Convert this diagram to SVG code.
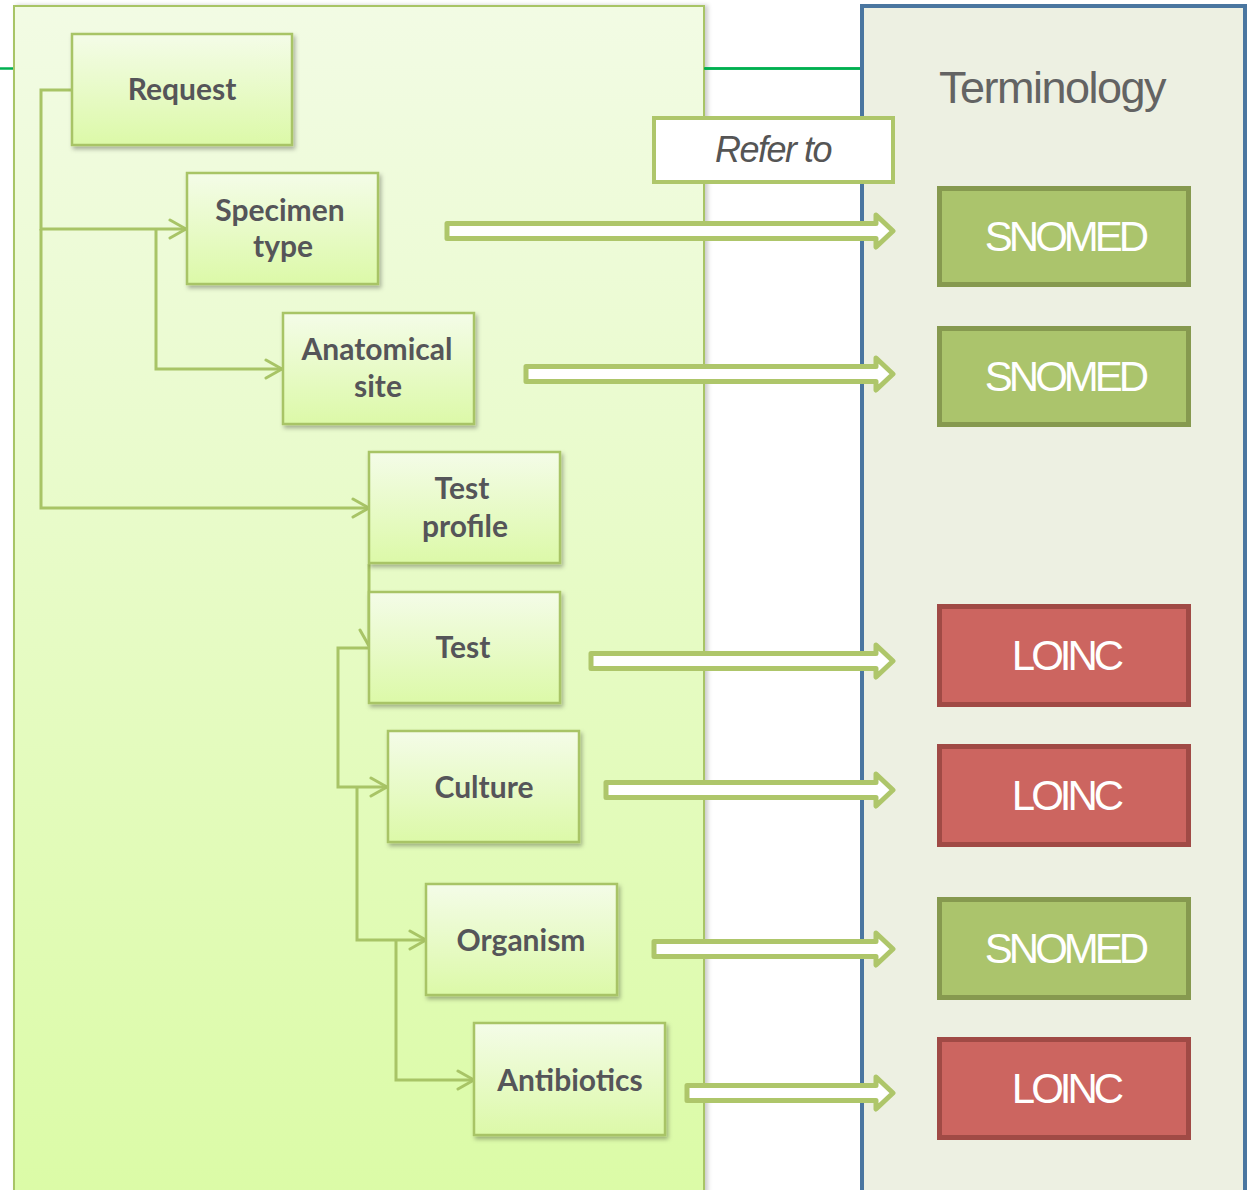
<svg xmlns="http://www.w3.org/2000/svg" width="1249" height="1190" viewBox="0 0 1249 1190">
  <defs>
    <linearGradient id="panelGrad" x1="0" y1="0" x2="0" y2="1">
      <stop offset="0" stop-color="#f2fbe4"/>
      <stop offset="1" stop-color="#dbfba6"/>
    </linearGradient>
    <linearGradient id="nodeGrad" x1="0" y1="0" x2="0" y2="1">
      <stop offset="0" stop-color="#f4fce8"/>
      <stop offset="1" stop-color="#dcf9a8"/>
    </linearGradient>
    <filter id="shadow" x="-10%" y="-10%" width="130%" height="130%">
      <feDropShadow dx="2" dy="3" stdDeviation="2" flood-color="#000" flood-opacity="0.3"/>
    </filter>
    <filter id="panelShadow" x="-5%" y="-5%" width="110%" height="110%">
      <feDropShadow dx="3" dy="0" stdDeviation="2" flood-color="#000" flood-opacity="0.2"/>
    </filter>
    <marker id="open" viewBox="0 0 20 22" refX="18" refY="11" markerWidth="20" markerHeight="22" markerUnits="userSpaceOnUse" orient="auto">
      <path d="M2,2 L18,11 L2,20" fill="none" stroke="#a8c466" stroke-width="3" stroke-linecap="round"/>
    </marker>
  </defs>
  <style>
    .node rect { fill: url(#nodeGrad); stroke: #a8c466; stroke-width: 2.5; filter: url(#shadow); }
    .node text { font-family: Lato, "Liberation Sans", sans-serif; font-weight: bold; font-size: 30px; fill: #555559; text-anchor: middle; }
    .conn path.line { fill: none; stroke: #a8c466; stroke-width: 3; }
    .conn path.block { fill: #ffffff; stroke: #aec66a; stroke-width: 5; stroke-linejoin: round; }
    .term text { font-family: "Liberation Sans", Arial, sans-serif; font-size: 42px; fill: #ffffff; text-anchor: middle; letter-spacing: -4px; }
    .snomed rect { fill: #abc46c; stroke: #86994f; stroke-width: 5; }
    .loinc rect { fill: #cc6560; stroke: #a04a45; stroke-width: 5; }
  </style>

  <!-- background panels -->
  <line x1="0" y1="68.5" x2="870" y2="68.5" stroke="#00b050" stroke-width="2.5"/>
  <rect x="14" y="6" width="690" height="1200" fill="url(#panelGrad)" stroke="#a8c466" stroke-width="2" filter="url(#panelShadow)"/>
  <line x1="704" y1="68.5" x2="862" y2="68.5" stroke="#00b050" stroke-width="2.5"/>
  <rect x="862" y="6" width="383" height="1200" fill="#edf0e2" stroke="#4a76a0" stroke-width="4"/>
  <text x="1052" y="103" font-family="'Liberation Sans', Arial, sans-serif" font-size="45" fill="#636363" text-anchor="middle" letter-spacing="-1.5">Terminology</text>

  <!-- Refer to label -->
  <g id="refer-to">
    <rect x="654" y="118" width="239" height="64" fill="#ffffff" stroke="#aec66a" stroke-width="4"/>
    <text x="773" y="162" font-family="'Liberation Sans', Arial, sans-serif" font-style="italic" font-size="36" fill="#555555" text-anchor="middle" letter-spacing="-1.5">Refer to</text>
  </g>

  <!-- connectors -->
  <g id="connectors" class="conn">
    <path class="line" d="M71,90 H41 V229 H186" marker-end="url(#open)"/>
    <path class="line" d="M41,229 V508 H369" marker-end="url(#open)"/>
    <path class="line" d="M156,229 V369 H282" marker-end="url(#open)"/>
    <path class="line" d="M369,564 V646" marker-end="url(#open)"/>
    <path class="line" d="M369,648 H338 V787 H387" marker-end="url(#open)"/>
    <path class="line" d="M357,787 V940 H426" marker-end="url(#open)"/>
    <path class="line" d="M396,940 V1080 H474" marker-end="url(#open)"/>
    <!-- block arrows: Refer to -->
    <path class="block" d="M447,223.5 H876 V215 L893,231 L876,247 V238.5 H447 Z"/>
    <path class="block" d="M526,366.5 H876 V358 L893,374 L876,390 V381.5 H526 Z"/>
    <path class="block" d="M591,653.5 H876 V645 L893,661 L876,677 V668.5 H591 Z"/>
    <path class="block" d="M606,782.5 H876 V774 L893,790 L876,806 V797.5 H606 Z"/>
    <path class="block" d="M654,941.5 H876 V933 L893,949 L876,965 V956.5 H654 Z"/>
    <path class="block" d="M687,1085.5 H876 V1077 L893,1093 L876,1109 V1100.5 H687 Z"/>
  </g>

  <!-- hierarchy nodes -->
  <g id="request" class="node">
    <rect x="72" y="34" width="220" height="111"/>
    <text x="182" y="100">Request</text>
  </g>
  <g id="specimen-type" class="node">
    <rect x="187" y="173" width="191" height="111"/>
    <text x="280" y="221">Specimen</text>
    <text x="283" y="257">type</text>
  </g>
  <g id="anatomical-site" class="node">
    <rect x="283" y="313" width="191" height="111"/>
    <text x="377" y="360">Anatomical</text>
    <text x="378" y="397">site</text>
  </g>
  <g id="test-profile" class="node">
    <rect x="369" y="452" width="191" height="111"/>
    <text x="462" y="499">Test</text>
    <text x="465" y="537">profile</text>
  </g>
  <g id="test" class="node">
    <rect x="369" y="592" width="191" height="111"/>
    <text x="463" y="658">Test</text>
  </g>
  <g id="culture" class="node">
    <rect x="388" y="731" width="191" height="111"/>
    <text x="484" y="798">Culture</text>
  </g>
  <g id="organism" class="node">
    <rect x="426" y="884" width="191" height="111"/>
    <text x="521" y="951">Organism</text>
  </g>
  <g id="antibiotics" class="node">
    <rect x="474" y="1023" width="191" height="112"/>
    <text x="570" y="1091">Antibiotics</text>
  </g>

  <!-- terminology nodes -->
  <g id="snomed-1" class="term snomed">
    <rect x="939.5" y="188.5" width="249" height="96"/>
    <text x="1065" y="251">SNOMED</text>
  </g>
  <g id="snomed-2" class="term snomed">
    <rect x="939.5" y="328.5" width="249" height="96"/>
    <text x="1065" y="391">SNOMED</text>
  </g>
  <g id="loinc-1" class="term loinc">
    <rect x="939.5" y="606.5" width="249" height="98"/>
    <text x="1066" y="670">LOINC</text>
  </g>
  <g id="loinc-2" class="term loinc">
    <rect x="939.5" y="746.5" width="249" height="98"/>
    <text x="1066" y="810">LOINC</text>
  </g>
  <g id="snomed-3" class="term snomed">
    <rect x="939.5" y="899.5" width="249" height="98"/>
    <text x="1065" y="963">SNOMED</text>
  </g>
  <g id="loinc-3" class="term loinc">
    <rect x="939.5" y="1039.5" width="249" height="98"/>
    <text x="1066" y="1103">LOINC</text>
  </g>
</svg>
